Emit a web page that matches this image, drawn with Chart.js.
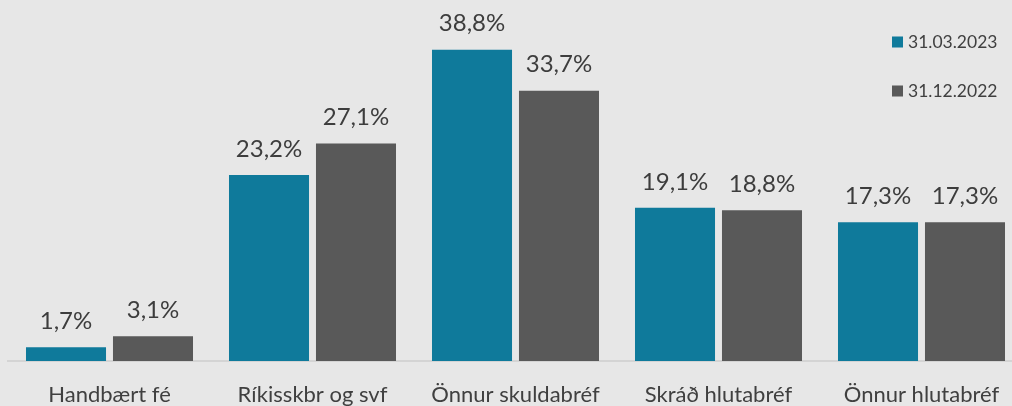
<!DOCTYPE html>
<html lang="is">
<head>
<meta charset="UTF-8">
<title>Eignasamsetning</title>
<script src="https://cdn.jsdelivr.net/npm/chart.js"></script>
<style>
  html, body { margin: 0; padding: 0; overflow: hidden; background: #e7e7e7; }
  #wrap { width: 1023px; height: 406px; }
</style>
</head>
<body>
<div id="wrap"><canvas id="chart" width="1023" height="406"></canvas></div>
<script>
const categories = ['Handbært fé', 'Ríkisskbr og svf', 'Önnur skuldabréf', 'Skráð hlutabréf', 'Önnur hlutabréf']
const q1_2023 = [1.7, 23.2, 38.8, 19.1, 17.3]
const q4_2022 = [3.1, 27.1, 33.7, 18.8, 17.3]
const seriesNames = ['31.03.2023', '31.12.2022']
const colors = ['#0f7a9b', '#595959']

const fontName = 'Lato, "Open Sans", sans-serif'

function fmt(v) {
    return v.toFixed(1).replace('.', ',') + '%'
}

// value labels above bars
const barLabels = {
    id: 'barLabels',
    afterDatasetsDraw(chart) {
        const ctx = chart.ctx
        ctx.save()
        ctx.font = '24px ' + fontName
        ctx.fillStyle = '#3d3d3d'
        ctx.textAlign = 'center'
        ctx.textBaseline = 'middle'
        chart.data.datasets.forEach((ds, i) => {
            chart.getDatasetMeta(i).data.forEach((bar, j) => {
                ctx.fillText(fmt(ds.data[j]), bar.x, bar.y - 26)
            })
        })
        ctx.restore()
    }
}

// small legend in the top right corner
const cornerLegend = {
    id: 'cornerLegend',
    afterDraw(chart) {
        const ctx = chart.ctx
        ctx.save()
        ctx.font = '17.5px ' + fontName
        ctx.textBaseline = 'middle'
        ctx.textAlign = 'left'
        chart.data.datasets.forEach((ds, i) => {
            const y = 42 + i * 49
            ctx.fillStyle = ds.backgroundColor
            ctx.fillRect(892, y - 5.5, 11, 11)
            ctx.fillStyle = '#404040'
            ctx.fillText(ds.label, 908, y)
        })
        ctx.restore()
    }
}

new Chart(document.getElementById('chart'), {
    type: 'bar',
    data: {
        labels: categories,
        datasets: [{
            label: seriesNames[0],
            data: q1_2023,
            backgroundColor: colors[0],
        }, {
            label: seriesNames[1],
            data: q4_2022,
            backgroundColor: colors[1],
        }]
    },
    options: {
        responsive: false,
        animation: false,
        devicePixelRatio: 1,
        categoryPercentage: 0.857,
        barPercentage: 0.92,
        layout: { padding: { left: 8, right: 0, top: 0, bottom: 0 } },
        plugins: {
            legend: { display: false },
            tooltip: { enabled: false },
        },
        scales: {
            x: {
                grid: { display: false },
                border: { display: true, color: '#d4d4d4', width: 2 },
                ticks: {
                    color: '#404040',
                    font: { family: fontName, size: 22 },
                    padding: 13,
                    maxRotation: 0,
                    autoSkip: false,
                },
                afterFit(scale) {
                    scale.height = 45
                },
            },
            y: {
                display: false,
                min: 0,
                max: 45,
            },
        },
    },
    plugins: [barLabels, cornerLegend],
})
</script>
</body>
</html>
